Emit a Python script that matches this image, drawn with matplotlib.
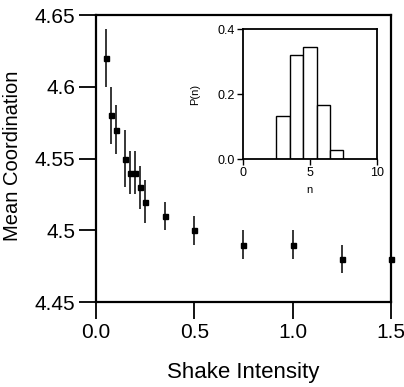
import matplotlib
matplotlib.use("Agg")
import matplotlib.pyplot as plt

plt.rcParams['font.family'] = ['Liberation Sans', 'DejaVu Sans']

# Main data
shake = [0.05, 0.075, 0.10, 0.15, 0.175, 0.20, 0.225, 0.25, 0.35, 0.50, 0.75, 1.00, 1.25, 1.50]
coord = [4.62, 4.58, 4.57, 4.55, 4.54, 4.54, 4.53, 4.52, 4.51, 4.50, 4.49, 4.49, 4.48, 4.48]
coord_err = [0.02, 0.02, 0.017, 0.02, 0.015, 0.015, 0.015, 0.015, 0.01, 0.01, 0.01, 0.01, 0.01, 0.01]

x_ticks = [0.0, 0.5, 1.0, 1.5]
x_ticklabels = ["0.0", "0.5", "1.0", "1.5"]
y_ticks = [4.45, 4.50, 4.55, 4.60, 4.65]
y_ticklabels = ["4.45", "4.5", "4.55", "4.6", "4.65"]

# Inset histogram
n_vals = [3, 4, 5, 6, 7]
p_n = [0.133, 0.321, 0.344, 0.165, 0.029]
inset_xticks = [0, 5, 10]
inset_yticks = [0.0, 0.2, 0.4]
inset_yticklabels = ["0.0", "0.2", "0.4"]

fig = plt.figure(figsize=(4.04, 3.87), dpi=100)
ax = fig.add_axes([0.2376, 0.2196, 0.730, 0.7416])
ax.errorbar(shake, coord, yerr=coord_err, fmt='s', color='black',
            markersize=3.6, elinewidth=1.1, capsize=0, clip_on=False, zorder=3)
ax.set_xlim(0, 1.5)
ax.set_ylim(4.45, 4.65)
ax.set_xticks(x_ticks)
ax.set_xticklabels(x_ticklabels)
ax.set_yticks(y_ticks)
ax.set_yticklabels(y_ticklabels)
ax.tick_params(direction='out', length=12, width=1.3, labelsize=15, pad=3)
for s in ax.spines.values():
    s.set_linewidth(1.6)
ax.set_xlabel("Shake Intensity", fontsize=16)
ax.set_ylabel("Mean Coordination", fontsize=14.5)
ax.xaxis.set_label_coords(0.50, -0.21)
ax.yaxis.set_label_coords(-0.25, 0.51)

ins = fig.add_axes([0.601, 0.589, 0.332, 0.336])
ins.bar(n_vals, p_n, width=1.0, facecolor='white', edgecolor='black', linewidth=1.0)
ins.set_xlim(0, 10)
ins.set_ylim(0, 0.4)
ins.set_xticks(inset_xticks)
ins.set_yticks(inset_yticks)
ins.set_yticklabels(inset_yticklabels)
ins.tick_params(direction='out', length=4, width=1.0, labelsize=9, pad=2)
for s in ins.spines.values():
    s.set_linewidth(1.3)
ins.set_xlabel("n", fontsize=8, labelpad=4)
ins.set_ylabel("P(n)", fontsize=8, labelpad=12)

fig.savefig("out.png", dpi=100)
